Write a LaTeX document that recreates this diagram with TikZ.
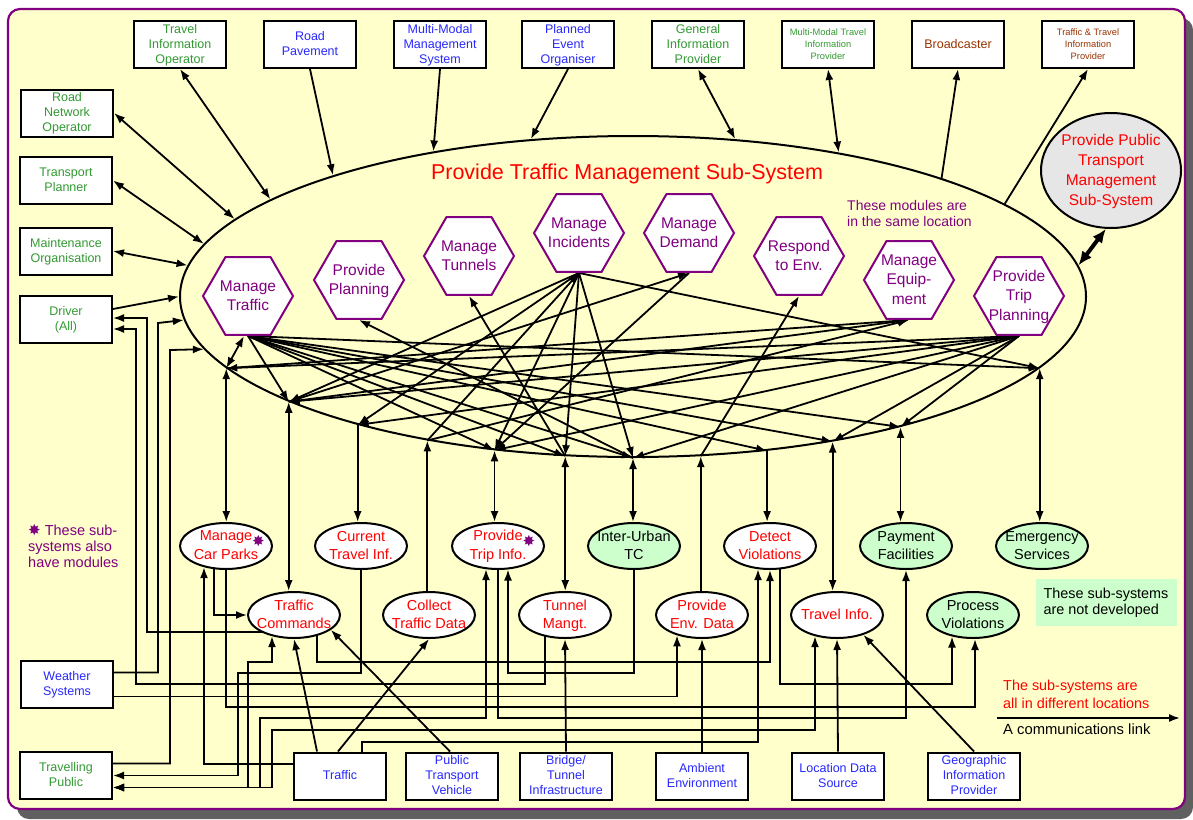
\documentclass[tikz,border=0pt]{standalone}
\usepackage{fontspec}
\setmainfont{Liberation Sans}
\newfontfamily\starfont{DejaVu Sans}
\usetikzlibrary{arrows.meta,shapes.geometric}
\pgfdeclarelayer{panel}
\pgfdeclarelayer{wires}
\pgfsetlayers{panel,wires,main}
\definecolor{panelyellow}{RGB}{255,255,204}
\definecolor{framepurple}{RGB}{128,0,128}
\definecolor{hexpurple}{RGB}{128,0,128}
\definecolor{palegreen}{RGB}{204,255,204}
\definecolor{boxgreen}{RGB}{51,153,51}
\definecolor{boxblue}{RGB}{40,40,255}
\definecolor{boxbrown}{RGB}{153,51,0}
\definecolor{shadowgray}{RGB}{96,96,96}
\definecolor{circlegray}{RGB}{230,230,230}
\newcommand{\zt}[1]{\raisebox{-.3em}[0pt][0pt]{\makebox[0pt]{\begin{tabular}{@{}c@{}}#1\end{tabular}}}}
\newcommand{\modstar}{{\starfont\color{hexpurple}\fontsize{15}{15}\selectfont ✸}}

\begin{document}
\begin{tikzpicture}[x=1pt,y=-1pt,>={Latex[length=11pt,width=8pt]},
    extbox/.style={draw,line width=2pt,fill=white,minimum width=92,minimum height=47,inner sep=0,font=\fontsize{12.5}{15}\selectfont},
    smallbox/.style={extbox,font=\fontsize{9.3}{12}\selectfont},
    modhex/.style={draw=hexpurple,line width=2pt,fill=white,regular polygon,regular polygon sides=6,minimum size=90,inner sep=0,text=hexpurple,font=\fontsize{15.5}{19.5}\selectfont},
    subell/.style={draw,ellipse,line width=2pt,fill=white,minimum width=92,minimum height=46,inner sep=0,text=red,font=\fontsize{14.5}{18}\selectfont},
    subgreen/.style={subell,fill=palegreen,text=black},
    wire/.style={line width=1.8pt},
    thickwire/.style={line width=4pt,>={Latex[length=14pt,width=12pt]}}]
    \useasboundingbox (0,0) rectangle (1193,819);
    \begin{pgfonlayer}{panel}
        \fill[white] (0,0) rectangle (1193,819);
        \fill[shadowgray,rounded corners=12] (17,18) rectangle (1193,819);
        \filldraw[fill=panelyellow,draw=framepurple,line width=2.2pt,rounded corners=12] (8,9) rectangle (1185,809);
    \end{pgfonlayer}

    \node[extbox,text=boxgreen] (tio) at (180,44.5) {\zt{Travel\\Information\\Operator}};
    \node[extbox,text=boxblue] (rp) at (310,44.5) {\zt{Road\\Pavement}};
    \node[extbox,text=boxblue] (mmms) at (440,44.5) {\zt{Multi-Modal\\Management\\System}};
    \node[extbox,text=boxblue] (peo) at (568,44.5) {\zt{Planned\\Event\\Organiser}};
    \node[extbox,text=boxgreen] (gip) at (698,44.5) {\zt{General\\Information\\Provider}};
    \node[smallbox,text=boxgreen] (mmtip) at (828,44.5) {\zt{Multi-Modal Travel\\Information\\Provider}};
    \node[extbox,text=boxbrown] (bcast) at (958,44.5) {\zt{Broadcaster}};
    \node[smallbox,text=boxbrown] (ttip) at (1088,44.5) {\zt{Traffic \& Travel\\Information\\Provider}};

    \node[extbox,text=boxgreen] (rno) at (67,113) {\zt{Road\\Network\\Operator}};
    \node[extbox,text=boxgreen] (tplan) at (66,180.5) {\zt{Transport\\Planner}};
    \node[extbox,text=boxgreen] (maint) at (66,251) {\zt{Maintenance\\Organisation}};
    \node[extbox,text=boxgreen] (driver) at (66,319) {\zt{Driver\\(All)}};
    \node[extbox,text=boxblue] (weather) at (67,684.5) {\zt{Weather\\Systems}};
    \node[extbox,text=boxgreen] (travpub) at (66,775.5) {\zt{Travelling\\Public}};

    \node[extbox,text=boxblue] (traffic) at (340,776) {\zt{Traffic}};
    \node[extbox,text=boxblue] (ptv) at (452,776) {\zt{Public\\Transport\\Vehicle}};
    \node[extbox,text=boxblue] (bti) at (566,776) {\zt{Bridge/\\Tunnel\\Infrastructure}};
    \node[extbox,text=boxblue] (ambient) at (702,776) {\zt{Ambient\\Environment}};
    \node[extbox,text=boxblue] (lds) at (838,776) {\zt{Location Data\\Source}};
    \node[extbox,text=boxblue] (geo) at (974,776) {\zt{Geographic\\Information\\Provider}};

    \node[draw,ellipse,line width=2pt,minimum width=906,minimum height=321,inner sep=0] (tms) at (633,296.5) {};
    \node[text=red,font=\fontsize{21.5}{24}\selectfont] (tmstitle) at (627,174) {Provide Traffic Management Sub-System};
    \node[draw,ellipse,line width=2pt,fill=circlegray,minimum width=140,minimum height=115,inner sep=0,text=red,font=\fontsize{15.5}{19.7}\selectfont] (pptms) at (1111,170.5) {\zt{Provide Public\\Transport\\Management\\Sub-System}};

    \node[modhex] (mt) at (248,296) {\zt{Manage\\Traffic}};
    \node[modhex] (pplan) at (359,280) {\zt{Provide\\Planning}};
    \node[modhex] (mtun) at (469,256) {\zt{Manage\\Tunnels}};
    \node[modhex] (minc) at (579,233) {\zt{Manage\\Incidents}};
    \node[modhex] (mdem) at (689,233) {\zt{Manage\\Demand}};
    \node[modhex] (renv) at (799,256) {\zt{Respond\\to Env.}};
    \node[modhex] (mequip) at (909,280) {\zt{Manage\\Equip-\\ment}};
    \node[modhex] (ptp) at (1019,296) {\zt{Provide\\Trip\\Planning}};

    \node[subell] (mcp) at (226,546) {\zt{Manage\rlap{\raisebox{-6pt}{\modstar}}\\Car Parks}};
    \node[subell] (cti) at (361,546) {\zt{Current\\Travel Inf.}};
    \node[subell] (pti) at (498,546) {\zt{Provide\rlap{\raisebox{-6pt}{\modstar}}\\Trip Info.}};
    \node[subgreen] (iutc) at (634,546) {\zt{Inter-Urban\\TC}};
    \node[subell] (dv) at (770,546) {\zt{Detect\\Violations}};
    \node[subgreen] (pf) at (906,546) {\zt{Payment\\Facilities}};
    \node[subgreen] (es) at (1042,546) {\zt{Emergency\\Services}};
    \node[subell] (tc) at (294,615) {\zt{Traffic\\Commands}};
    \node[subell] (ctd) at (429,615) {\zt{Collect\\Traffic Data}};
    \node[subell] (tmg) at (565,615) {\zt{Tunnel\\Mangt.}};
    \node[subell] (ped) at (702,615) {\zt{Provide\\Env. Data}};
    \node[subell] (ti) at (837,615) {\zt{Travel Info.}};
    \node[subgreen] (pv) at (973,615) {\zt{Process\\Violations}};

    \node[text=hexpurple,align=left,anchor=west,inner sep=0,font=\fontsize{14}{16}\selectfont] (samenote) at (847,213) {These modules are\\in the same location};
    \node[text=hexpurple,align=left,anchor=west,inner sep=0,font=\fontsize{14.5}{16}\selectfont] (modnote) at (28,546) {\modstar{} These sub-\\systems also\\have modules};
    \node[fill=palegreen,minimum width=141,minimum height=47,inner sep=0,align=left,font=\fontsize{14.4}{16}\selectfont] (devnote) at (1106,602.5) {These sub-systems\\are not developed};
    \node[text=red,align=left,anchor=west,inner sep=0,font=\fontsize{14.4}{18}\selectfont] (locnote) at (1003,694) {The sub-systems are\\all in different locations};
    \node[anchor=west,inner sep=0,font=\fontsize{14.8}{16}\selectfont] (linknote) at (1003,729) {A communications link};
    \coordinate (linkstart) at (997,718);
    \coordinate (linkend) at (1180,718);

    \coordinate (p1) at (tms.190);
    \coordinate (p2) at (tms.197.3);
    \coordinate (p3) at (tms.205.4);
    \coordinate (p4) at (tms.215.3);
    \coordinate (p5) at (tms.228.6);
    \coordinate (p6) at (tms.247.1);
    \coordinate (p7) at (tms.270.2);
    \coordinate (p8) at (tms.293.5);
    \coordinate (p9) at (tms.311.8);
    \coordinate (p10) at (tms.324.9);
    \coordinate (p11) at (tms.334.9);
    \coordinate (p12) at (tms.350.4);

    \begin{pgfonlayer}{wires}
        \draw[wire,->] (linkstart) -- (linkend);

        \draw[wire,<->] (tio.south) -- (tms.165.1);
        \draw[wire,->] (rp.south) -- (tms.158.8);
        \draw[wire,->] (mmms.south) -- (tms.144.5);
        \draw[wire,->] (peo.south) -- (tms.123.6);
        \draw[wire,<->] (gip.south) -- (tms.57.9);
        \draw[wire,<->] (mmtip.south) -- (tms.35.5);
        \draw[wire,->] (tms.21.9) -- (bcast.south);
        \draw[wire,->] (tms.14.8) -- (ttip.south);
        \draw[wire,<->] (rno.east) -- (tms.169.7);
        \draw[wire,<->] (tplan.east) -- (tms.173);
        \draw[wire,<->] (maint.east) -- (tms.176.7);
        \draw[wire,->] ([yshift=10]driver.east) -- (tms.west);
        \draw[thickwire,<->] (pptms.265) -- (tms.4.1);

        \draw[wire,<->] ([xshift=-4]mt.south) -- (p1);
        \draw[wire,->] (mt.south) -- (p2);
        \draw[wire,->] (mt.south) -- (p5);
        \draw[wire,->] (mt.south) -- (p6);
        \draw[wire,->] (mt.south) -- (p7);
        \draw[wire,->] (mt.south) -- (p9);
        \draw[wire,->] (mt.south) -- (p10);
        \draw[wire,->] (mt.south) -- (p11);
        \draw[wire,->] (mt.south) -- (p12);
        \draw[wire,->] (p7) -- (pplan.south);
        \draw[wire,->] (p6) -- (mtun.south);
        \draw[wire,->] (minc.south) -- (p2);
        \draw[wire,->] (minc.south) -- (p3);
        \draw[wire,->] (minc.south) -- (p5);
        \draw[wire,->] (minc.south) -- (p6);
        \draw[wire,->] (minc.south) -- (p7);
        \draw[wire,->] (minc.south) -- (p12);
        \draw[wire,->] (p4) -- (minc.south);
        \draw[wire,->] (p2) -- (mdem.south);
        \draw[wire,->] (mdem.south) -- (p5);
        \draw[wire,->] (p8) -- (renv.south);
        \draw[wire,->] (p1) -- (mequip.south);
        \draw[wire,->] (p2) -- (mequip.south);
        \draw[wire,->] (p4) -- (mequip.south);
        \draw[wire,->] (ptp.south) -- (p1);
        \draw[wire,->] (ptp.south) -- (p2);
        \draw[wire,->] (ptp.south) -- (p3);
        \draw[wire,->] (ptp.south) -- (p5);
        \draw[wire,->] (ptp.south) -- (p7);
        \draw[wire,->] (ptp.south) -- (p10);
        \draw[wire,->] (ptp.south) -- (p11);

        \draw[wire,<->] (p1) -- (p1 |- mcp.north);
        \draw[wire,<->] (p2) -- (p2 |- tc.north);
        \draw[wire,->] (p3) -- (p3 |- cti.north);
        \draw[wire,->] (p4 |- ctd.north) -- (p4);
        \draw[wire,<->] (p5) -- (p5 |- pti.north);
        \draw[wire,<->] (p6) -- (p6 |- tmg.north);
        \draw[wire,<->] (p7) -- (p7 |- iutc.north);
        \draw[wire,->] (p8 |- ped.north) -- (p8);
        \draw[wire,->] (p9) -- (p9 |- dv.north);
        \draw[wire,<->] (p10) -- (p10 |- ti.north);
        \draw[wire,<->] (p11) -- (p11 |- pf.north);
        \draw[wire,<->] (p12) -- (p12 |- es.north);

        \draw[wire,->] ([xshift=-20,yshift=-17]tc.center) -| (147,318) -- ([yshift=1]driver.east);
        \draw[wire,->] ([xshift=-20]tmg.center) |- (136,684) |- ([yshift=-10]driver.east);
        \draw[wire,->] ([yshift=12]weather.east) -| (158,323) -- (tms.183.4);
        \draw[wire,->] ([yshift=12]travpub.east) -| (170,350) -- (tms.187.1);
        \draw[wire,->] ([yshift=12]traffic.west) -| ([xshift=-22,yshift=2.8]mcp.south);
        \draw[wire,->] ([xshift=-12]mcp.center) |- (tc.west);
        \draw[wire,->] (mcp.center) |- (975,707) -- ([xshift=2]pv.south);
        \draw[wire,->] (cti.center) |- (238,673) |- (travpub.east);
        \draw[wire,<->] ([xshift=-22,yshift=2.8]tc.south) |- (248,662) |- ([yshift=-12]travpub.east);
        \draw[wire,<->] ([xshift=-12,yshift=0.8]pti.south) |- (260,718) |- ([yshift=-12]travpub.east);
        \draw[wire,<->] ([xshift=-22,yshift=2.8]ti.south) |- (272,730) |- ([yshift=-12]travpub.east);
        \draw[wire,->] ([xshift=23]tc.center) |- (770,662) -- (dv.south);
        \draw[wire,->] ([xshift=22]traffic.north) |- (758,742) -- ([xshift=-12,yshift=0.8]dv.south);
        \draw[wire,->] ([xshift=10]dv.center) |- (952,684) -- ([xshift=-21,yshift=2.5]pv.south);
        \draw[wire,->] (iutc.center) |- (508,673) -- ([xshift=10,yshift=0.5]pti.south);
        \draw[wire,->] ([yshift=-12]weather.east) -| ([xshift=-25,yshift=3.7]ped.south);
        \draw[wire,->] (pti.center) |- (906,718) -- (pf.south);
        \draw[wire,->] ([xshift=-2]traffic.north) -- (ctd.south);
        \draw[wire,->] ([xshift=-23]traffic.north) -- (tc.south);
        \draw[wire,->] ([xshift=-2]ptv.north) -- (tc.338.3);
        \draw[wire,->] (bti.north) -- (tmg.south);
        \draw[wire,->] (ambient.north) -- (ped.south);
        \draw[wire,->] (lds.north) -- (ti.south);
        \draw[wire,->] (geo.north) -- (ti.323.8);
    \end{pgfonlayer}
\end{tikzpicture}
\end{document}
